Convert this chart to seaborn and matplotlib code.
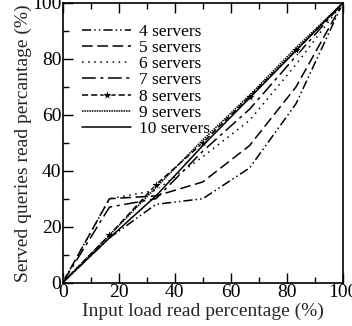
import numpy as np
import pandas as pd
import seaborn as sns
import matplotlib.pyplot as plt
from matplotlib.ticker import MultipleLocator

# input load read percentage (x) for each measurement
input_read = [0, 16.7, 33.3, 50, 66.7, 83.3, 100]

servers_4 = [0, 16, 28, 30, 41, 64, 100]
servers_5 = [0, 30, 31, 36, 49, 70, 100]
servers_6 = [0, 30, 33, 45, 58, 78, 100]
servers_7 = [0, 27, 30, 47, 62, 81, 100]
servers_8 = [0, 17, 35, 50, 66.5, 83, 100]
servers_9 = [0, 17, 34, 51, 67, 84, 100]
servers_10 = [0, 16, 31, 49, 66, 83, 100]

labels = ["4 servers", "5 servers", "6 servers", "7 servers",
          "8 servers", "9 servers", "10 servers"]
series = [servers_4, servers_5, servers_6, servers_7,
          servers_8, servers_9, servers_10]

styles = {
    "4 servers": dict(dashes=(6, 2, 1, 2, 1, 2), marker=None),
    "5 servers": dict(dashes=(7, 3), marker=None),
    "6 servers": dict(dashes=(1, 3), marker=None),
    "7 servers": dict(dashes=(9, 3, 2, 3), marker=None),
    "8 servers": dict(dashes=(4, 2), marker="*"),
    "9 servers": dict(dashes=(1, 0.6), marker=None),
    "10 servers": dict(dashes="", marker=None),
}

rows = []
for lab, vals in zip(labels, series):
    for x, y in zip(input_read, vals):
        rows.append({"input": x, "served": y, "config": lab})
df = pd.DataFrame(rows)

sns.set_theme(style="ticks")
plt.rcParams["font.family"] = ["Liberation Serif", "DejaVu Serif"]

fig = plt.figure(figsize=(3.52, 3.26), dpi=100)
ax = fig.add_axes([0.178, 0.133, 0.796, 0.858])

for lab in labels:
    st = styles[lab]
    sub = df[df["config"] == lab]
    sns.lineplot(data=sub, x="input", y="served", ax=ax, color="black",
                 linewidth=1.1, label=lab, marker=st["marker"],
                 markersize=8, markeredgewidth=0.6)
    line = ax.lines[-1]
    if st["dashes"]:
        line.set_dashes(st["dashes"])

ax.set_xlim(0, 100)
ax.set_ylim(0, 100)
ax.xaxis.set_major_locator(MultipleLocator(20))
ax.xaxis.set_minor_locator(MultipleLocator(10))
ax.yaxis.set_major_locator(MultipleLocator(20))
ax.yaxis.set_minor_locator(MultipleLocator(10))
ax.tick_params(which="both", direction="in", top=True, right=False,
               labelsize=14, colors="black", pad=1)
ax.tick_params(which="major", length=7, width=1)
ax.tick_params(which="minor", length=4, width=1)
for sp in ax.spines.values():
    sp.set_color("black")
    sp.set_linewidth(1.2)

ax.set_xlabel("Input load read percentage (%)", fontsize=14, labelpad=1)
ax.set_ylabel("Served queries read percantage (%)", fontsize=14, labelpad=0)

leg = ax.legend(loc="upper left", frameon=False, fontsize=12.5,
                handlelength=2.8, handletextpad=0.45, labelspacing=0.0,
                borderaxespad=0.0, bbox_to_anchor=(0.045, 0.95))
for t in leg.get_texts():
    t.set_color("black")

fig.savefig("out.png", dpi=100)
